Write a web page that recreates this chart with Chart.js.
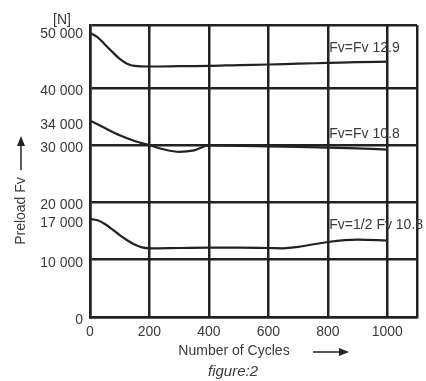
<!DOCTYPE html>
<html>
<head>
<meta charset="utf-8">
<script src="https://cdn.jsdelivr.net/npm/chart.js@4.4.1/dist/chart.umd.min.js"></script>
<style>
  html, body { margin: 0; padding: 0; background: #fff; }
  #wrap { width: 426px; height: 381px; position: relative; }
</style>
</head>
<body>
<div id="wrap"><canvas id="c" width="426" height="381"></canvas></div>
<script>
// ---- data ----
const cycles1 = [0, 25, 50, 75, 100, 125, 150, 200, 300, 400, 500, 600, 700, 800, 900, 1000];
const preload1 = [49600, 48900, 47600, 46300, 45100, 44250, 43850, 43750, 43800, 43850, 44000, 44100, 44250, 44370, 44500, 44600];

const cycles2 = [0, 50, 100, 150, 200, 250, 300, 350, 400, 500, 600, 700, 800, 900, 1000];
const preload2 = [34300, 33000, 31750, 30750, 30000, 29250, 28850, 29100, 29950, 29900, 29800, 29700, 29600, 29450, 29250];

const cycles3 = [0, 25, 50, 75, 100, 125, 150, 175, 200, 300, 400, 500, 600, 650, 700, 800, 900, 1000];
const preload3 = [17100, 16900, 16250, 15300, 14300, 13400, 12650, 12150, 12000, 12050, 12100, 12100, 12050, 12000, 12250, 13100, 13500, 13350];

const seriesLabels = ["Fv=Fv 12.9", "Fv=Fv 10.8", "Fv=1/2 Fv 10.8"];
const labelAnchors = [[805, 46900], [805, 31900], [805, 16100]]; // [cycles, N] where labels start

const xTicks = [0, 200, 400, 600, 800, 1000, 1100];
const yTicks = [0, 10000, 17000, 20000, 30000, 34000, 40000, 50000, 51000];
const yGridValues = [0, 10000, 20000, 30000, 40000, 51000];
const xMax = 1100, yMax = 51000;

const FONT = "'Liberation Sans', Arial, Helvetica, sans-serif";
const INK = '#222';
const TXT = '#3a3a3a';

function pts(xs, ys) { return xs.map((x, i) => ({ x: x, y: ys[i] })); }
function fmt(v) { return String(v).replace(/\B(?=(\d{3})+(?!\d))/g, ' '); }

const decor = {
  id: 'decor',
  afterDraw(chart) {
    const ctx = chart.ctx;
    const xs = chart.scales.x, ys = chart.scales.y;
    const ca = chart.chartArea;
    ctx.save();
    ctx.fillStyle = TXT;
    ctx.strokeStyle = INK;
    ctx.font = '14px ' + FONT;
    ctx.textBaseline = 'middle';
    // series labels
    ctx.textAlign = 'left';
    seriesLabels.forEach((t, i) => {
      ctx.fillText(t, xs.getPixelForValue(labelAnchors[i][0]), ys.getPixelForValue(labelAnchors[i][1]));
    });
    // unit
    ctx.textAlign = 'center';
    ctx.fillText('[N]', 62, ca.top - 5);
    // x title
    ctx.fillText('Number of Cycles', 234, 351);
    // x arrow
    ctx.lineWidth = 1.5;
    ctx.beginPath(); ctx.moveTo(313, 352); ctx.lineTo(342, 352); ctx.stroke();
    ctx.fillStyle = INK;
    ctx.beginPath(); ctx.moveTo(349, 352); ctx.lineTo(339, 348); ctx.lineTo(339, 356); ctx.closePath(); ctx.fill();
    // figure caption
    ctx.fillStyle = TXT;
    ctx.font = 'italic 15px ' + FONT;
    ctx.fillText('figure:2', 233, 372);
    // y title rotated
    ctx.font = '14px ' + FONT;
    ctx.save();
    ctx.translate(21, 211);
    ctx.rotate(-Math.PI / 2);
    ctx.fillText('Preload Fv', 0, 0);
    ctx.restore();
    // y arrow
    ctx.beginPath(); ctx.moveTo(21, 170); ctx.lineTo(21, 143); ctx.stroke();
    ctx.fillStyle = INK;
    ctx.beginPath(); ctx.moveTo(21, 136); ctx.lineTo(17, 146); ctx.lineTo(25, 146); ctx.closePath(); ctx.fill();
    ctx.restore();
  }
};

const lineStyle = {
  borderColor: INK, borderWidth: 2.2, pointRadius: 0, fill: false,
  cubicInterpolationMode: 'monotone', tension: 0.4
};

new Chart(document.getElementById('c'), {
  type: 'line',
  data: {
    datasets: [
      Object.assign({ label: seriesLabels[0], data: pts(cycles1, preload1) }, lineStyle),
      Object.assign({ label: seriesLabels[1], data: pts(cycles2, preload2) }, lineStyle),
      Object.assign({ label: seriesLabels[2], data: pts(cycles3, preload3) }, lineStyle)
    ]
  },
  options: {
    responsive: false,
    animation: false,
    events: [],
    layout: { padding: { top: 25, right: 9, left: 0, bottom: 0 } },
    plugins: { legend: { display: false }, tooltip: { enabled: false } },
    scales: {
      x: {
        type: 'linear', min: 0, max: xMax,
        afterBuildTicks: s => { s.ticks = xTicks.map(v => ({ value: v })); },
        afterFit: s => { s.height = 64; },
        grid: { color: INK, lineWidth: 2.5, drawTicks: false },
        border: { display: true, color: INK, width: 2.5 },
        ticks: {
          padding: 7, color: TXT, maxRotation: 0, autoSkip: false,
          font: { family: FONT, size: 14 },
          callback: v => (v === 1100 ? '' : String(v))
        }
      },
      y: {
        type: 'linear', min: 0, max: yMax,
        afterBuildTicks: s => { s.ticks = yTicks.map(v => ({ value: v })); },
        afterFit: s => { s.width = 90; },
        grid: {
          drawTicks: false, lineWidth: 2.5,
          color: c => (c.tick && yGridValues.indexOf(c.tick.value) >= 0 ? INK : 'rgba(0,0,0,0)')
        },
        border: { display: true, color: INK, width: 2.5 },
        ticks: {
          padding: 7, color: TXT, autoSkip: false, labelOffset: 3,
          font: { family: FONT, size: 14 },
          callback: v => (v === 51000 ? '' : fmt(v))
        }
      }
    }
  },
  plugins: [decor]
});
</script>
</body>
</html>
